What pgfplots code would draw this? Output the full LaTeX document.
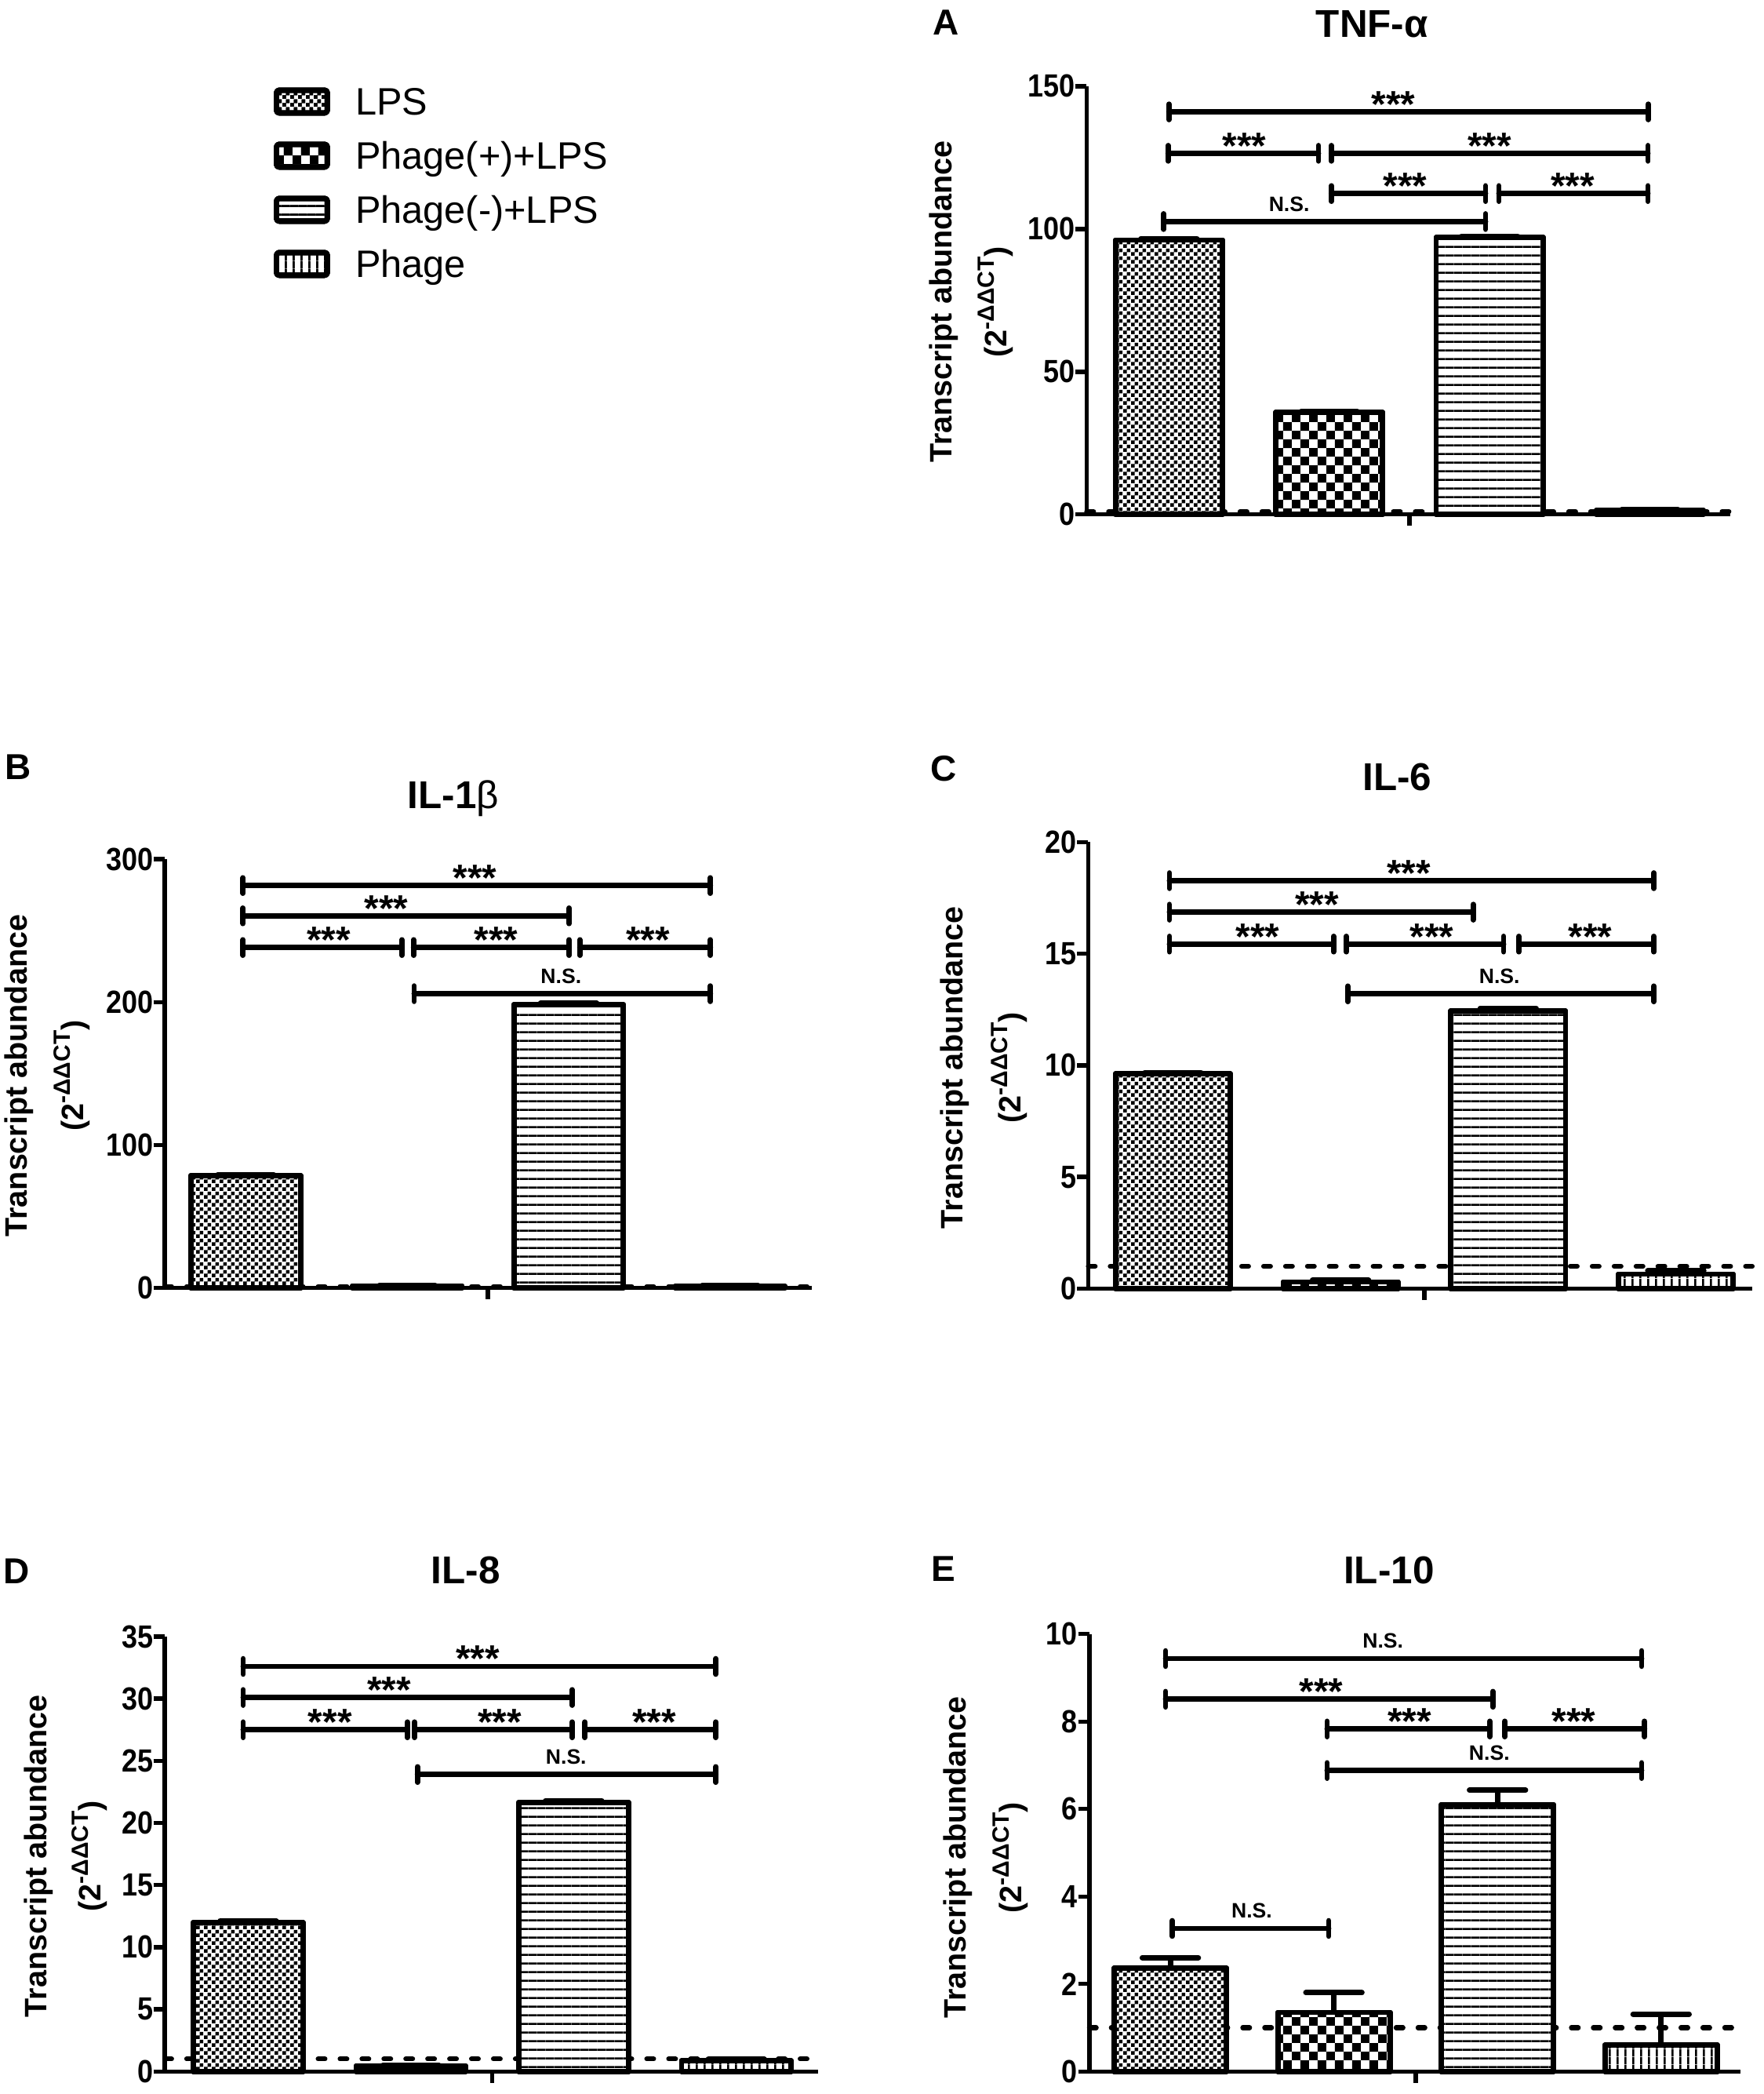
\documentclass[border=0pt]{standalone}
\usepackage{pgfplots}
\pgfplotsset{compat=1.18}
\usepackage{fontspec}
\setmainfont{Liberation Sans}
\usetikzlibrary{patterns}

\pgfdeclarepatternformonly{finecheck}{\pgfqpoint{0pt}{0pt}}{\pgfqpoint{2.94pt}{2.94pt}}{\pgfqpoint{2.94pt}{2.94pt}}{%
 \pgfpathrectangle{\pgfqpoint{0pt}{0pt}}{\pgfqpoint{1.47pt}{1.47pt}}%
 \pgfpathrectangle{\pgfqpoint{1.47pt}{1.47pt}}{\pgfqpoint{1.47pt}{1.47pt}}%
 \pgfusepath{fill}}
\pgfdeclarepatternformonly{coarsecheck}{\pgfqpoint{0pt}{0pt}}{\pgfqpoint{6.45pt}{6.45pt}}{\pgfqpoint{6.45pt}{6.45pt}}{%
 \pgfpathrectangle{\pgfqpoint{0pt}{0pt}}{\pgfqpoint{3.225pt}{3.225pt}}%
 \pgfpathrectangle{\pgfqpoint{3.225pt}{3.225pt}}{\pgfqpoint{3.225pt}{3.225pt}}%
 \pgfusepath{fill}}
\pgfdeclarepatternformonly{hlines}{\pgfqpoint{0pt}{0pt}}{\pgfqpoint{3.3pt}{3.3pt}}{\pgfqpoint{3.3pt}{3.3pt}}{%
 \pgfpathrectangle{\pgfqpoint{0pt}{0pt}}{\pgfqpoint{3.3pt}{0.8pt}}\pgfusepath{fill}}
\pgfdeclarepatternformonly{vlines}{\pgfqpoint{0pt}{0pt}}{\pgfqpoint{2.8pt}{2.8pt}}{\pgfqpoint{2.8pt}{2.8pt}}{%
 \pgfpathrectangle{\pgfqpoint{0pt}{0pt}}{\pgfqpoint{0.8pt}{2.8pt}}\pgfusepath{fill}}

\newcommand\tickfont{\fontsize{12}{12}\selectfont\bfseries}
\newcommand\sigfont{\fontsize{14}{14}\selectfont\bfseries}
\newcommand\nsfont{\fontsize{7.8}{8}\selectfont\bfseries}
\newcommand\labfont{\fontsize{11.6}{13}\selectfont\bfseries}
\newcommand\titfont{\fontsize{14.5}{16}\selectfont\bfseries}
\newcommand\letfont{\fontsize{13.5}{15}\selectfont\bfseries}
\newcommand\legfont{\fontsize{14.3}{16}\selectfont}
\newcommand\suplab{\labfont(2\raisebox{0.42em}{\fontsize{8.8}{9}\selectfont -ΔΔCT})}

\pgfplotsset{
 panel/.style={scale only axis, clip=false,
  axis x line*=bottom, axis y line*=left,
  axis line style={line width=1.6pt, black},
  tick align=outside, major tick length=4.2pt,
  tick style={line width=1.6pt, black},
  xtick={1.5}, xticklabels={}, ytick pos=left,
  yticklabel style={font=\tickfont, xscale=0.88, inner sep=0pt},
  ymin=0, anchor=south west},
 barbase/.style={ybar, bar shift=0pt, draw=black, line width=2pt, line join=round, fill=white,
  error bars/y dir=plus, error bars/y explicit,
  error bars/error bar style={line width=2pt, black, solid},
  error bars/error mark options={rotate=90, line width=2pt, mark size=10.5pt, black, line cap=round}},
 lps/.style={barbase, postaction={pattern=finecheck},
  legend image code/.code={\draw[line width=2pt, fill=white, postaction={pattern=finecheck}, rounded corners=1pt] (0pt,-4.25pt) rectangle (19pt,4.25pt);}},
 php/.style={barbase, postaction={pattern=coarsecheck},
  legend image code/.code={\draw[line width=2pt, fill=white, postaction={pattern=coarsecheck}, rounded corners=1pt] (0pt,-4.25pt) rectangle (19pt,4.25pt);}},
 phm/.style={barbase, postaction={pattern=hlines},
  legend image code/.code={\draw[line width=2pt, fill=white, postaction={pattern=hlines}, rounded corners=1pt] (0pt,-4.25pt) rectangle (19pt,4.25pt);}},
 ph/.style={barbase, postaction={pattern=vlines},
  legend image code/.code={\draw[line width=2pt, fill=white, postaction={pattern=vlines}, rounded corners=1pt] (0pt,-4.25pt) rectangle (19pt,4.25pt);}},
 ref/.style={forget plot, black, line width=1.8pt, line cap=round, dash pattern=on 2.6pt off 5.6pt},
 brk/.style={forget plot, black, line width=2pt, line cap=round, mark=|, mark size=2.9pt,
  mark options={solid, line width=2pt, line cap=round}},
}
\newcommand\br[3]{\addplot[brk] coordinates {(#1,#3) (#2,#3)};}
\newcommand\st[2]{\node[font=\sigfont, anchor=base, inner sep=0pt, yshift=-2pt] at (axis cs:#1,#2) {***};}
\newcommand\ns[2]{\node[font=\nsfont, anchor=base, inner sep=0pt, yshift=3.9pt] at (axis cs:#1,#2) {N.S.};}

\begin{document}
\begin{tikzpicture}
\path[use as bounding box] (0,0) rectangle (660pt,-783.5pt);

% ---------------- Panel A: TNF-alpha ----------------
\begin{axis}[panel, at={(406.7pt,-192.5pt)}, width=240.8pt, height=160.25pt,
  xmin=-0.513, xmax=3.5, ymax=150, ytick={0,50,100,150}, yticklabels={0,50,100,150},
  bar width=40pt,
  legend style={draw=none, fill=none, at={(-1.2633,0.99688)}, anchor=north west,
    inner sep=0pt, outer sep=0pt, row sep=9.75pt, column sep=9.5pt, font=\legfont,
    nodes={inner sep=0pt, text height=10.2pt, text depth=0pt}},
  legend cell align=left]
\addplot[ref] coordinates {(-0.513,1) (3.5,1)};
\addplot[lps] coordinates {(0,96.1) +- (0,0.5)};
\addlegendentry{LPS}
\addplot[php] coordinates {(1,35.7) +- (0,0.4)};
\addlegendentry{Phage(+)+LPS}
\addplot[phm] coordinates {(2,97.0) +- (0,0.5)};
\addlegendentry{Phage(-)+LPS}
\addplot[ph] coordinates {(3,1.5) +- (0,0.3)};
\addlegendentry{Phage}
\br{0}{2.99}{141} \st{1.40}{141}
\br{-0.005}{0.933}{126.5} \st{0.47}{126.5}
\br{1.013}{2.988}{126.5} \st{2.0}{126.5}
\br{1.013}{1.975}{112.4} \st{1.474}{112.4}
\br{2.058}{2.988}{112.4} \st{2.518}{112.4}
\br{-0.033}{1.975}{102.6} \ns{0.75}{102.6}
\end{axis}

% ---------------- Panel B: IL-1beta ----------------
\begin{axis}[panel, at={(61.65pt,-481.85pt)}, width=242.05pt, height=160.35pt,
  xmin=-0.502, xmax=3.504, ymax=300, ytick={0,100,200,300}, yticklabels={0,100,200,300},
  bar width=41pt]
\addplot[ref] coordinates {(-0.502,1) (3.504,1)};
\addplot[lps] coordinates {(0,78.5) +- (0,0.6)};
\addplot[php] coordinates {(1,1.3) +- (0,0.2)};
\addplot[phm] coordinates {(2,198.3) +- (0,1.0)};
\addplot[ph] coordinates {(3,1.2) +- (0,0.2)};
\br{-0.017}{2.878}{281.6} \st{1.419}{281.6}
\br{-0.017}{2.003}{260.4} \st{0.871}{260.4}
\br{-0.017}{0.967}{238.2} \st{0.513}{238.2}
\br{1.039}{2.003}{238.2} \st{1.55}{238.2}
\br{2.069}{2.878}{238.2} \st{2.492}{238.2}
\br{1.043}{2.878}{205.9} \ns{1.953}{205.9}
\end{axis}

% ---------------- Panel C: IL-6 ----------------
\begin{axis}[panel, at={(407.3pt,-482.15pt)}, width=248.5pt, height=167.1pt,
  xmin=-0.505, xmax=3.456, ymax=20, ytick={0,5,10,15,20}, yticklabels={0,5,10,15,20},
  bar width=42.9pt]
\addplot[ref] coordinates {(-0.505,1) (3.456,1)};
\addplot[lps] coordinates {(0,9.62) +- (0,0.06)};
\addplot[php] coordinates {(1,0.3) +- (0,0.08)};
\addplot[phm] coordinates {(2,12.43) +- (0,0.12)};
\addplot[ph] coordinates {(3,0.65) +- (0,0.15)};
\br{-0.021}{2.869}{18.27} \st{1.406}{18.27}
\br{-0.021}{1.791}{16.86} \st{0.859}{16.86}
\br{-0.021}{0.958}{15.43} \st{0.506}{15.43}
\br{1.034}{1.973}{15.43} \st{1.545}{15.43}
\br{2.064}{2.869}{15.43} \st{2.49}{15.43}
\br{1.043}{2.869}{13.2} \ns{1.948}{13.2}
\end{axis}

% ---------------- Panel D: IL-8 ----------------
\begin{axis}[panel, at={(61.65pt,-775.05pt)}, width=244.5pt, height=162.7pt,
  xmin=-0.513, xmax=3.502, ymax=35, ytick={0,5,10,15,20,25,30,35}, yticklabels={0,5,10,15,20,25,30,35},
  bar width=41pt]
\addplot[ref] coordinates {(-0.513,1) (3.502,1)};
\addplot[lps] coordinates {(0,11.98) +- (0,0.15)};
\addplot[php] coordinates {(1,0.45) +- (0,0.05)};
\addplot[phm] coordinates {(2,21.65) +- (0,0.15)};
\addplot[ph] coordinates {(3,0.85) +- (0,0.12)};
\br{-0.031}{2.874}{32.6} \st{1.41}{32.6}
\br{-0.031}{1.991}{30.1} \st{0.866}{30.1}
\br{-0.031}{0.978}{27.5} \st{0.503}{27.5}
\br{1.022}{1.991}{27.5} \st{1.546}{27.5}
\br{2.069}{2.874}{27.5} \st{2.496}{27.5}
\br{1.04}{2.874}{23.9} \ns{1.954}{23.9}
\end{axis}

% ---------------- Panel E: IL-10 ----------------
\begin{axis}[panel, at={(407.7pt,-775.05pt)}, width=243.8pt, height=163.65pt,
  xmin=-0.495, xmax=3.487, ymax=10, ytick={0,2,4,6,8,10}, yticklabels={0,2,4,6,8,10},
  bar width=42pt]
\addplot[ref] coordinates {(-0.495,1) (3.487,1)};
\addplot[lps] coordinates {(0,2.36) +- (0,0.24)};
\addplot[php] coordinates {(1,1.35) +- (0,0.45)};
\addplot[phm] coordinates {(2,6.1) +- (0,0.33)};
\addplot[ph] coordinates {(3,0.6) +- (0,0.71)};
\br{-0.029}{2.881}{9.44} \ns{1.3}{9.44}
\br{-0.029}{1.971}{8.51} \st{0.923}{8.51}
\br{0.958}{1.953}{7.83} \st{1.463}{7.83}
\br{2.045}{2.899}{7.83} \st{2.467}{7.83}
\br{0.958}{2.881}{6.88} \ns{1.95}{6.88}
\br{0.012}{0.968}{3.27} \ns{0.498}{3.27}
\end{axis}

% ---------------- titles, panel letters, axis labels ----------------
\node[font=\titfont, anchor=base] at (513.5pt,-13.8pt) {TNF-α};
\node[font=\titfont, anchor=base] at (169.65pt,-302.45pt) {IL-1{\mdseries β}};
\node[font=\titfont, anchor=base] at (522.95pt,-295.7pt) {IL-6};
\node[font=\titfont, anchor=base] at (174.3pt,-592.45pt) {IL-8};
\node[font=\titfont, anchor=base] at (519.85pt,-592.45pt) {IL-10};

\node[font=\letfont, anchor=base] at (354pt,-13.15pt) {A};
\node[font=\letfont, anchor=base] at (6.65pt,-291.6pt) {B};
\node[font=\letfont, anchor=base] at (353.3pt,-292.3pt) {C};
\node[font=\letfont, anchor=base] at (6.2pt,-592.45pt) {D};
\node[font=\letfont, anchor=base] at (352.95pt,-591.8pt) {E};

\node[rotate=90, font=\labfont, inner sep=0pt] at (353.35pt,-112.9pt) {Transcript abundance};
\node[rotate=90, inner sep=0pt] at (372.6pt,-113pt) {\suplab};
\node[rotate=90, font=\labfont, inner sep=0pt] at (7.25pt,-402.5pt) {Transcript abundance};
\node[rotate=90, inner sep=0pt] at (26.9pt,-402.5pt) {\suplab};
\node[rotate=90, font=\labfont, inner sep=0pt] at (357.45pt,-399.5pt) {Transcript abundance};
\node[rotate=90, inner sep=0pt] at (377.75pt,-399.5pt) {\suplab};
\node[rotate=90, font=\labfont, inner sep=0pt] at (14.5pt,-694.5pt) {Transcript abundance};
\node[rotate=90, inner sep=0pt] at (33.5pt,-694.5pt) {\suplab};
\node[rotate=90, font=\labfont, inner sep=0pt] at (358.5pt,-695pt) {Transcript abundance};
\node[rotate=90, inner sep=0pt] at (378.15pt,-695pt) {\suplab};
\end{tikzpicture}
\end{document}
